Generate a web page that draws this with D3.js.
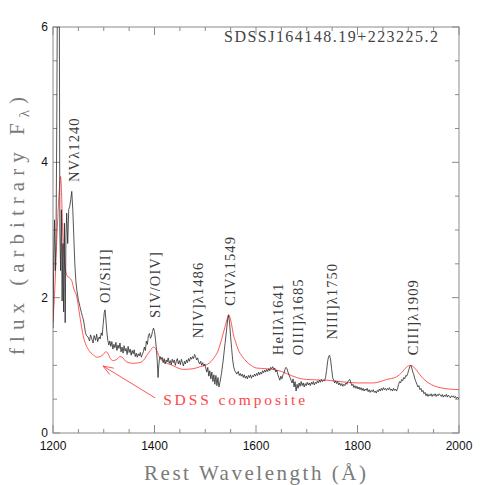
<!DOCTYPE html>
<html>
<head>
<meta charset="utf-8">
<script src="https://cdn.jsdelivr.net/npm/d3@7"></script>
<style>
  body { margin: 0; background: #fff; }
  svg { display: block; }
</style>
</head>
<body>
<svg id="chart"></svg>
<script>
// observed spectrum, [rest wavelength (A), flux]
const spectrum = [
  [1200,1.55],[1201.5,2.6],[1203,3.15],[1204.5,2.4],[1206,2.9],[1207.5,4.6],[1208.5,6.3],[1210,6.6],
  [1211.5,6.5],[1212.5,6.3],[1213.5,3.0],[1215,2.4],[1216.5,3.3],[1218,1.95],[1219.5,2.8],[1221,1.79],
  [1222.5,3.1],[1224,1.63],[1225.5,2.9],[1227,3.25],[1229,2.8],[1231,3.3],[1233,3.35],[1235,3.45],
  [1237,3.57],[1239,3.3],[1241,2.9],[1243,2.5],[1245,2.25],[1247,2.11],[1250,1.97],[1253,1.87],
  [1256,1.78],[1258,1.72],[1260,1.67],[1262,1.58],[1264,1.48],[1266,1.44],[1269,1.42],[1272,1.36],
  [1274,1.45],[1277,1.38],[1279,1.33],[1281,1.44],[1284,1.37],[1286,1.46],[1288,1.35],[1291,1.42],
  [1293,1.39],[1295,1.48],[1297,1.44],[1299,1.62],[1301,1.78],[1302.5,1.82],[1304,1.70],[1306,1.50],
  [1308,1.37],[1310,1.30],[1312,1.36],[1314,1.28],[1316,1.35],[1318,1.24],[1320,1.31],[1322,1.26],
  [1324,1.34],[1326,1.22],[1328,1.30],[1330,1.25],[1332,1.33],[1334,1.20],[1336,1.27],[1338,1.18],
  [1340,1.29],[1342,1.21],[1344,1.25],[1346,1.16],[1348,1.28],[1350,1.19],[1352,1.24],[1354,1.15],
  [1356,1.22],[1358,1.17],[1360,1.23],[1362,1.13],[1364,1.18],[1366,1.12],[1368,1.17],[1370,1.14],
  [1372,1.19],[1374,1.12],[1376,1.16],[1378,1.20],[1380,1.27],[1382,1.22],[1384,1.36],[1386,1.31],
  [1388,1.44],[1390,1.47],[1392,1.40],[1394,1.43],[1396,1.50],[1398,1.55],[1400,1.50],[1402,1.38],
  [1404,1.22],[1405.5,1.05],[1407,0.82],[1408,0.95],[1409.5,1.08],[1411,1.13],[1413,1.09],[1415,1.12],
  [1417,1.04],[1419,1.10],[1421,1.02],[1423,1.08],[1425,1.05],[1427,1.11],[1429,1.03],[1431,1.07],
  [1433,1.01],[1435,1.09],[1437,1.04],[1439,1.08],[1441,1.00],[1443,1.06],[1445,1.10],[1447,1.02],
  [1449,1.07],[1451,1.01],[1453,1.09],[1455,1.04],[1457,0.99],[1459,1.06],[1461,1.02],[1463,1.08],
  [1465,1.04],[1467,1.10],[1469,1.06],[1471,1.12],[1473,1.09],[1475,1.13],[1477,1.10],[1479,1.16],
  [1481,1.13],[1483,1.08],[1485,1.11],[1487,1.05],[1489,1.02],[1491,1.06],[1493,1.00],[1495,1.04],
  [1497,0.99],[1499,1.02],[1501,0.96],[1503,0.90],[1505,0.97],[1507,0.84],[1509,0.92],[1511,0.80],
  [1513,0.90],[1515,0.76],[1517,0.86],[1519,0.72],[1521,0.85],[1523,0.70],[1525,0.82],[1527,0.68],
  [1529,0.75],[1532,0.88],[1535,1.05],[1539,1.32],[1542,1.52],[1544,1.67],[1546,1.74],[1548,1.62],
  [1550,1.42],[1552,1.25],[1554,1.08],[1556,0.98],[1558,0.92],[1560,0.90],[1562,0.87],[1565,0.91],
  [1567,0.85],[1569,0.88],[1571,0.84],[1573,0.87],[1575,0.82],[1577,0.86],[1579,0.81],[1581,0.84],
  [1583,0.80],[1585,0.85],[1587,0.82],[1589,0.86],[1591,0.81],[1593,0.85],[1595,0.83],[1597,0.87],
  [1599,0.84],[1601,0.88],[1603,0.85],[1605,0.90],[1607,0.86],[1609,0.90],[1611,0.87],[1613,0.92],
  [1615,0.89],[1617,0.93],[1619,0.90],[1621,0.94],[1623,0.91],[1625,0.95],[1627,0.92],[1629,0.97],
  [1631,0.95],[1633,0.98],[1635,0.94],[1637,0.96],[1639,0.90],[1641,0.93],[1643,0.86],[1645,0.82],
  [1647,0.78],[1649,0.84],[1651,0.80],[1653,0.86],[1655,0.88],[1657,0.94],[1659,0.97],[1661,0.95],
  [1663,0.90],[1665,0.86],[1667,0.82],[1669,0.78],[1671,0.74],[1673,0.80],[1675,0.68],[1677,0.76],
  [1679,0.62],[1681,0.72],[1683,0.66],[1685,0.74],[1687,0.69],[1689,0.76],[1691,0.70],[1693,0.74],
  [1695,0.68],[1697,0.73],[1699,0.70],[1701,0.75],[1703,0.71],[1705,0.74],[1707,0.70],[1709,0.75],
  [1711,0.72],[1713,0.76],[1715,0.71],[1717,0.75],[1719,0.73],[1721,0.77],[1723,0.74],[1725,0.78],
  [1727,0.75],[1729,0.79],[1731,0.76],[1733,0.78],[1735,0.77],[1737,0.82],[1739,0.92],[1741,1.05],
  [1743,1.13],[1745,1.15],[1747,1.08],[1749,0.95],[1751,0.82],[1753,0.78],[1755,0.74],[1757,0.77],
  [1759,0.73],[1761,0.76],[1763,0.71],[1765,0.74],[1767,0.70],[1769,0.73],[1771,0.69],[1773,0.72],
  [1775,0.70],[1777,0.74],[1779,0.72],[1781,0.76],[1783,0.78],[1785,0.79],[1787,0.74],[1789,0.70],
  [1791,0.72],[1793,0.67],[1795,0.70],[1797,0.66],[1799,0.69],[1801,0.65],[1803,0.68],[1805,0.64],
  [1807,0.67],[1809,0.63],[1811,0.66],[1813,0.62],[1815,0.65],[1817,0.63],[1819,0.66],[1821,0.61],
  [1823,0.64],[1825,0.60],[1827,0.63],[1829,0.61],[1831,0.64],[1833,0.60],[1835,0.62],[1837,0.59],
  [1839,0.63],[1841,0.61],[1843,0.65],[1845,0.62],[1847,0.66],[1849,0.63],[1851,0.67],[1853,0.64],
  [1855,0.66],[1857,0.63],[1859,0.66],[1861,0.64],[1863,0.67],[1865,0.63],[1867,0.65],[1869,0.62],
  [1871,0.66],[1873,0.63],[1875,0.65],[1877,0.62],[1879,0.66],[1881,0.72],[1883,0.76],[1885,0.74],
  [1887,0.79],[1889,0.77],[1891,0.82],[1893,0.80],[1895,0.85],[1897,0.84],[1899,0.88],[1901,0.93],
  [1903,0.98],[1905,1.00],[1907,0.96],[1909,0.90],[1911,0.86],[1913,0.80],[1915,0.76],[1917,0.72],
  [1919,0.68],[1921,0.70],[1923,0.64],[1925,0.66],[1927,0.61],[1929,0.63],[1931,0.58],[1933,0.60],
  [1935,0.55],[1937,0.58],[1939,0.54],[1941,0.57],[1943,0.55],[1945,0.58],[1947,0.54],[1949,0.57],
  [1951,0.55],[1953,0.58],[1955,0.54],[1957,0.57],[1959,0.55],[1961,0.58],[1963,0.56],[1965,0.54],
  [1967,0.57],[1969,0.53],[1971,0.56],[1973,0.54],[1975,0.57],[1977,0.53],[1979,0.56],[1981,0.54],
  [1983,0.52],[1985,0.55],[1987,0.53],[1989,0.55],[1991,0.52],[1993,0.54],[1995,0.51],[1997,0.53],
  [1999,0.51],[2000,0.52]
]

// SDSS composite quasar spectrum (red)
const composite = [
  [1200,1.64],[1204,2.2],[1208,2.95],[1212,3.55],[1215,3.79],[1217,3.5],[1219,3.0],[1221,2.7],
  [1224,2.45],[1228,2.32],[1233,2.29],[1237,2.25],[1241,2.13],[1247,2.01],[1253,1.72],[1260,1.42],
  [1265,1.30],[1270,1.23],[1280,1.15],[1287,1.12],[1293,1.13],[1299,1.16],[1304,1.20],[1308,1.18],
  [1313,1.10],[1319,1.07],[1326,1.09],[1332,1.13],[1336,1.12],[1345,1.05],[1358,1.03],[1371,1.04],
  [1380,1.09],[1386,1.16],[1392,1.22],[1398,1.27],[1402,1.25],[1406,1.19],[1411,1.10],[1420,1.05],
  [1435,1.00],[1457,0.94],[1476,0.95],[1490,0.98],[1500,1.00],[1509,1.04],[1519,1.13],[1525,1.21],
  [1529,1.30],[1535,1.46],[1539,1.57],[1543,1.68],[1546,1.75],[1549,1.70],[1552,1.60],[1555,1.47],
  [1560,1.34],[1565,1.23],[1573,1.13],[1582,1.05],[1590,1.00],[1601,0.96],[1620,0.95],[1640,0.93],
  [1650,0.91],[1660,0.88],[1680,0.82],[1700,0.79],[1740,0.78],[1766,0.76],[1799,0.74],[1832,0.74],
  [1857,0.79],[1877,0.83],[1888,0.90],[1896,0.97],[1905,1.00],[1910,0.98],[1917,0.92],[1923,0.86],
  [1930,0.80],[1940,0.74],[1963,0.67],[2000,0.64]
]

// emission line labels: text, wavelength of label, flux at lower end of label
const lineLabels = [
  {text: 'NVλ1240', wl: 1241, f: 3.71},
  {text: 'OI/SiII]', wl: 1302, f: 1.92},
  {text: 'SIV/OIV]', wl: 1401, f: 1.70},
  {text: 'NIV]λ1486', wl: 1486, f: 1.40},
  {text: 'CIVλ1549', wl: 1549, f: 1.88},
  {text: 'HeIIλ1641', wl: 1643, f: 1.15},
  {text: 'OIII]λ1685', wl: 1683, f: 1.15},
  {text: 'NIII]λ1750', wl: 1750, f: 1.38},
  {text: 'CIII]λ1909', wl: 1909, f: 1.15}
]

const xMajor = [1200, 1400, 1600, 1800, 2000]
const yMajor = [0, 2, 4, 6]
const title = 'SDSSJ164148.19+223225.2'

const width = 485, height = 485
const margin = {top: 27, right: 26, bottom: 52, left: 53}

const svg = d3.select('#chart')
  .attr('width', width)
  .attr('height', height)

const x = d3.scaleLinear().domain([1200, 2000]).range([margin.left, width - margin.right])
const y = d3.scaleLinear().domain([0, 6]).range([height - margin.bottom, margin.top])

const frameColor = '#8a8a8a'
const serif = "'Liberation Serif', 'DejaVu Serif', serif"

svg.append('defs').append('clipPath').attr('id', 'plot-clip')
  .append('rect')
  .attr('x', x(1200)).attr('y', y(6))
  .attr('width', x(2000) - x(1200)).attr('height', y(0) - y(6))

// ticks on all four sides, pointing in
const ticks = svg.append('g').attr('stroke', frameColor).attr('stroke-width', 1)
const xMinor = x.ticks(16)
const yMinor = y.ticks(12)

xMinor.forEach(v => {
  const len = xMajor.includes(v) ? 8 : 4
  ticks.append('line').attr('x1', x(v)).attr('x2', x(v)).attr('y1', y(0)).attr('y2', y(0) - len)
  ticks.append('line').attr('x1', x(v)).attr('x2', x(v)).attr('y1', y(6)).attr('y2', y(6) + len)
})
yMinor.forEach(v => {
  const len = yMajor.includes(v) ? 7 : 4
  ticks.append('line').attr('y1', y(v)).attr('y2', y(v)).attr('x1', x(1200)).attr('x2', x(1200) + len)
  ticks.append('line').attr('y1', y(v)).attr('y2', y(v)).attr('x1', x(2000)).attr('x2', x(2000) - len)
})

svg.append('rect')
  .attr('x', x(1200)).attr('y', y(6))
  .attr('width', x(2000) - x(1200)).attr('height', y(0) - y(6))
  .attr('fill', 'none').attr('stroke', frameColor).attr('stroke-width', 1)

// tick labels
svg.append('g').selectAll('text')
  .data(xMajor)
  .enter().append('text')
  .attr('x', d => x(d))
  .attr('y', y(0) + 17)
  .attr('text-anchor', 'middle')
  .attr('font-family', "'Liberation Sans', Arial, sans-serif")
  .attr('font-size', 12)
  .attr('fill', '#111')
  .text(d => d)

svg.append('g').selectAll('text')
  .data(yMajor)
  .enter().append('text')
  .attr('x', x(1200) - 5)
  .attr('y', d => y(d) + 4)
  .attr('text-anchor', 'end')
  .attr('font-family', "'Liberation Sans', Arial, sans-serif")
  .attr('font-size', 12)
  .attr('fill', '#111')
  .text(d => d)

// spectra
const line = d3.line().x(d => x(d[0])).y(d => y(d[1]))
const plot = svg.append('g').attr('clip-path', 'url(#plot-clip)')

plot.append('path')
  .datum(composite)
  .attr('d', line.curve(d3.curveMonotoneX))
  .attr('fill', 'none')
  .attr('stroke', '#ff4545')
  .attr('stroke-width', 0.9)

plot.append('path')
  .datum(spectrum)
  .attr('d', line.curve(d3.curveLinear))
  .attr('fill', 'none')
  .attr('stroke', '#2a2a2a')
  .attr('stroke-width', 0.8)

// line labels
svg.append('g').selectAll('text')
  .data(lineLabels)
  .enter().append('text')
  .attr('transform', d => `translate(${x(d.wl) + 5},${y(d.f)}) rotate(-90)`)
  .attr('font-family', serif)
  .attr('font-size', 14.5)
  .attr('letter-spacing', 1.1)
  .attr('fill', '#3a3a3a')
  .text(d => d.text)

// title
svg.append('text')
  .attr('x', 224)
  .attr('y', y(5.78))
  .attr('textLength', 214)
  .attr('lengthAdjust', 'spacing')
  .attr('font-family', serif)
  .attr('font-size', 16)
  .attr('fill', '#444')
  .text(title)

// composite annotation
const red = '#ff4545'
const tip = [1298.5, 0.99], tail = [1401, 0.52]
svg.append('line')
  .attr('x1', x(tail[0])).attr('y1', y(tail[1]))
  .attr('x2', x(tip[0])).attr('y2', y(tip[1]))
  .attr('stroke', red).attr('stroke-width', 0.9)
const ang = Math.atan2(y(tail[1]) - y(tip[1]), x(tail[0]) - x(tip[0]))
;[0.35, -0.35].forEach(da => {
  svg.append('line')
    .attr('x1', x(tip[0])).attr('y1', y(tip[1]))
    .attr('x2', x(tip[0]) + 11 * Math.cos(ang + da))
    .attr('y2', y(tip[1]) + 11 * Math.sin(ang + da))
    .attr('stroke', red).attr('stroke-width', 0.9)
})
svg.append('text')
  .attr('x', x(1417))
  .attr('y', y(0.41))
  .attr('textLength', 142)
  .attr('lengthAdjust', 'spacing')
  .attr('font-family', serif)
  .attr('font-size', 15.5)
  .attr('fill', red)
  .text('SDSS composite')

// axis titles
svg.append('text')
  .attr('x', 255)
  .attr('y', 480)
  .attr('text-anchor', 'middle')
  .attr('textLength', 222)
  .attr('lengthAdjust', 'spacing')
  .attr('font-family', serif)
  .attr('font-size', 21)
  .attr('fill', '#7a7a7a')
  .text('Rest Wavelength (Å)')

const ylab = svg.append('text')
  .attr('transform', 'translate(24,226) rotate(-90)')
  .attr('text-anchor', 'middle')
  .attr('textLength', 258)
  .attr('lengthAdjust', 'spacing')
  .attr('font-family', serif)
  .attr('font-size', 21)
  .attr('fill', '#7a7a7a')
ylab.append('tspan').text('flux (arbitrary F')
ylab.append('tspan').attr('dy', 5).attr('font-size', 15).text('λ')
ylab.append('tspan').attr('dy', -5).text(')')
</script>
</body>
</html>
